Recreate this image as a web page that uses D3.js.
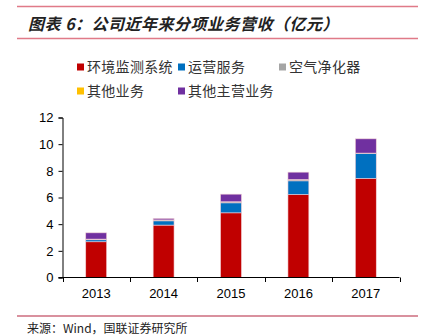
<!DOCTYPE html>
<html><head><meta charset="utf-8">
<script src="https://cdn.jsdelivr.net/npm/d3@7"></script>
<style>body{margin:0;background:#fff}svg{display:block}</style>
</head><body><svg id="c" width="427" height="336"></svg>
<script>
const years = ["2013","2014","2015","2016","2017"];
const seriesNames = ["环境监测系统","运营服务","空气净化器","其他业务","其他主营业务"];
const monitoring = [2.68, 3.93, 4.85, 6.22, 7.43];
const operation = [0.15, 0.32, 0.75, 1.03, 1.87];
const airPurifier = [0.05, 0.07, 0.08, 0.10, 0.03];
const otherBiz = [0, 0, 0, 0, 0];
const otherMain = [0.47, 0.11, 0.57, 0.55, 1.07];
const yTicks = [0, 2, 4, 6, 8, 10, 12];
const colors = ["#C00000", "#0070C0", "#A5A5A5", "#FFC000", "#7030A0"];

const svg = d3.select("#c");
const font = "'Liberation Sans', Arial, sans-serif";
const cjk = "'Noto Sans CJK SC', sans-serif";

// header lines & title
svg.append("line").attr("x1",17).attr("x2",418).attr("y1",6.5).attr("y2",6.5).attr("stroke","#E07A88").attr("stroke-width",1.5);
svg.append("line").attr("x1",17).attr("x2",418).attr("y1",38.5).attr("y2",38.5).attr("stroke","#E07A88").attr("stroke-width",1.5);
svg.append("text").attr("x",28).attr("y",30).attr("font-family",cjk).attr("font-size",16).attr("font-weight","bold")
  .attr("font-style","italic").attr("letter-spacing",0.5).attr("fill","#222").text("图表 6：公司近年来分项业务营收（亿元）");

// scales
const x = d3.scaleBand().domain(years).range([62.5, 399.5]).paddingInner(0.69).paddingOuter(0.345);
const y = d3.scaleLinear().domain([0, 12]).range([277.5, 117.5]);

const table = years.map((yr,i)=>({year:yr, s0:monitoring[i], s1:operation[i], s2:airPurifier[i], s3:otherBiz[i], s4:otherMain[i]}));
const stack = d3.stack().keys(["s0","s1","s2","s3","s4"])(table);

svg.append("g").selectAll("g").data(stack).join("g").attr("fill",(d,i)=>colors[i])
  .selectAll("rect").data(d=>d).join("rect")
  .attr("x", d=>x(d.data.year)).attr("width", x.bandwidth())
  .attr("y", d=>y(d[1])).attr("height", d=>Math.max(0, y(d[0])-y(d[1])))
  .attr("stroke","#f2d0d6").attr("stroke-width",0.6);

// y axis
const ya = svg.append("g").attr("transform","translate(62.5,0)")
  .call(d3.axisLeft(y).tickValues(yTicks).tickSize(4).tickPadding(5).tickFormat(d3.format("d")));
ya.select(".domain").attr("stroke","#000");
ya.selectAll(".tick line").attr("stroke","#000");
ya.selectAll("text").attr("font-family",font).attr("font-size",13).attr("fill","#000");

// x axis with ticks at band boundaries
svg.append("line").attr("x1",58.5).attr("x2",399.5).attr("y1",277.5).attr("y2",277.5).attr("stroke","#000");
const step = x.step();
const bounds = d3.range(years.length+1).map(i=>62.5 + i*step);
svg.append("g").selectAll("line").data(bounds).join("line")
  .attr("x1",d=>Math.round(d)+0.5).attr("x2",d=>Math.round(d)+0.5).attr("y1",277.5).attr("y2",282).attr("stroke","#000");
svg.append("g").selectAll("text").data(years).join("text")
  .attr("x",d=>x(d)+x.bandwidth()/2).attr("y",298).attr("text-anchor","middle")
  .attr("font-family",font).attr("font-size",13).attr("fill","#000").text(d=>d);

// legend
const legPos = [[77,67],[178,67],[279,67],[77,91],[178,91]];
const lg = svg.append("g").selectAll("g").data(seriesNames).join("g")
  .attr("transform",(d,i)=>`translate(${legPos[i][0]},${legPos[i][1]})`);
lg.append("rect").attr("x",0).attr("y",-3.5).attr("width",7).attr("height",7).attr("fill",(d,i)=>colors[i]);
lg.append("text").attr("x",10).attr("y",5).attr("font-family",cjk).attr("font-size",14).attr("letter-spacing",0.3).attr("fill","#333").text(d=>d);

// footer
svg.append("line").attr("x1",17).attr("x2",418).attr("y1",316).attr("y2",316).attr("stroke","#B3243F").attr("stroke-width",1.2);
svg.append("text").attr("x",27).attr("y",333).attr("font-family",cjk).attr("font-size",12).attr("fill","#222").text("来源：Wind，国联证券研究所");
</script></body></html>
